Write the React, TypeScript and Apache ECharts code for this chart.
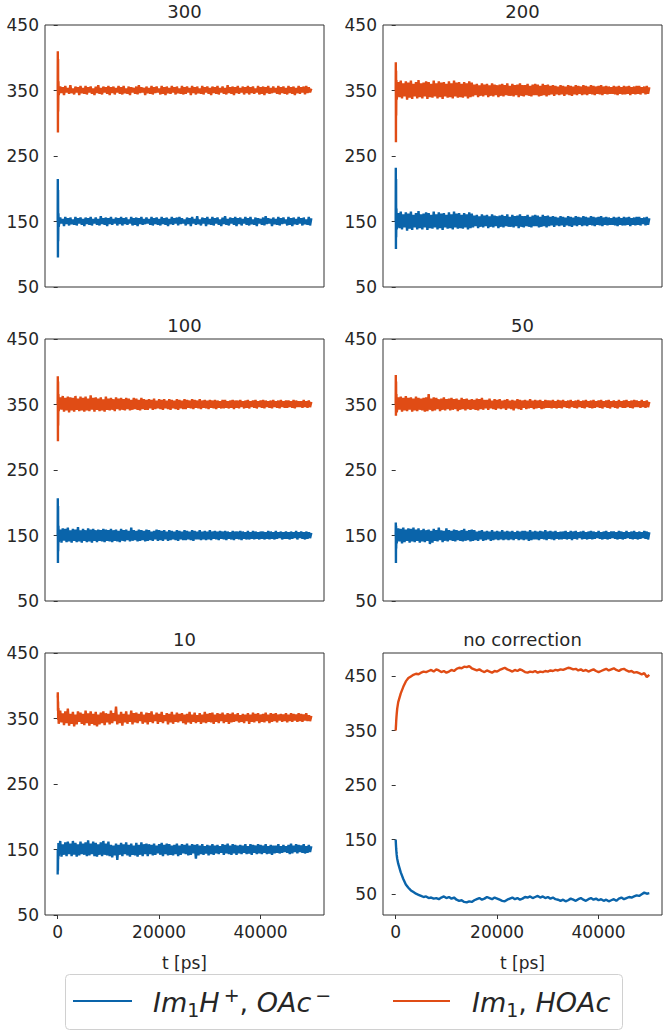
import React, { useEffect, useRef } from "react";
import * as echarts from "echarts";

// time stamps (ps) for the corrected runs
const TIMES = [
  0, 25, 50, 75, 100, 150, 200,
  250, 500, 750, 1000, 1250, 1500, 1750, 2000, 2250, 2500,
  2750, 3000, 3250, 3500, 3750, 4000, 4250, 4500, 4750, 5000,
  5250, 5500, 5750, 6000, 6250, 6500, 6750, 7000, 7250, 7500,
  7750, 8000, 8250, 8500, 8750, 9000, 9250, 9500, 9750, 10000,
  10250, 10500, 10750, 11000, 11250, 11500, 11750, 12000, 12250, 12500,
  12750, 13000, 13250, 13500, 13750, 14000, 14250, 14500, 14750, 15000,
  15250, 15500, 15750, 16000, 16250, 16500, 16750, 17000, 17250, 17500,
  17750, 18000, 18250, 18500, 18750, 19000, 19250, 19500, 19750, 20000,
  20250, 20500, 20750, 21000, 21250, 21500, 21750, 22000, 22250, 22500,
  22750, 23000, 23250, 23500, 23750, 24000, 24250, 24500, 24750, 25000,
  25250, 25500, 25750, 26000, 26250, 26500, 26750, 27000, 27250, 27500,
  27750, 28000, 28250, 28500, 28750, 29000, 29250, 29500, 29750, 30000,
  30250, 30500, 30750, 31000, 31250, 31500, 31750, 32000, 32250, 32500,
  32750, 33000, 33250, 33500, 33750, 34000, 34250, 34500, 34750, 35000,
  35250, 35500, 35750, 36000, 36250, 36500, 36750, 37000, 37250, 37500,
  37750, 38000, 38250, 38500, 38750, 39000, 39250, 39500, 39750, 40000,
  40250, 40500, 40750, 41000, 41250, 41500, 41750, 42000, 42250, 42500,
  42750, 43000, 43250, 43500, 43750, 44000, 44250, 44500, 44750, 45000,
  45250, 45500, 45750, 46000, 46250, 46500, 46750, 47000, 47250, 47500,
  47750, 48000, 48250, 48500, 48750, 49000, 49250, 49500, 49750, 50000,
];

// time stamps (ps) for the uncorrected run
const TIMES_NC = [
  0, 25, 50, 75, 100, 150, 200, 300,
  500, 1000, 1500, 2000, 2500, 3000, 3500, 4000, 4500, 5000,
  5500, 6000, 6500, 7000, 7500, 8000, 8500, 9000, 9500, 10000,
  10500, 11000, 11500, 12000, 12500, 13000, 13500, 14000, 14500, 15000,
  15500, 16000, 16500, 17000, 17500, 18000, 18500, 19000, 19500, 20000,
  20500, 21000, 21500, 22000, 22500, 23000, 23500, 24000, 24500, 25000,
  25500, 26000, 26500, 27000, 27500, 28000, 28500, 29000, 29500, 30000,
  30500, 31000, 31500, 32000, 32500, 33000, 33500, 34000, 34500, 35000,
  35500, 36000, 36500, 37000, 37500, 38000, 38500, 39000, 39500, 40000,
  40500, 41000, 41500, 42000, 42500, 43000, 43500, 44000, 44500, 45000,
  45500, 46000, 46500, 47000, 47500, 48000, 48500, 49000, 49500, 50000,
];

const ORANGE_300 = [
  350, 410, 286, 398, 318, 364, 343,
  344, 356, 346, 355, 343, 357, 347, 354, 345, 358,
  346, 353, 344, 356, 347, 355, 343, 357, 346, 354,
  345, 357, 344, 355, 347, 356, 345, 353, 343, 356,
  346, 358, 345, 354, 344, 356, 347, 355, 345, 357,
  343, 355, 346, 356, 344, 354, 347, 357, 345, 355,
  344, 357, 346, 353, 345, 356, 343, 355, 347, 354,
  345, 356, 344, 358, 346, 355, 347, 354, 343, 356,
  346, 354, 345, 357, 344, 355, 346, 356, 347, 353,
  344, 357, 345, 355, 343, 356, 346, 354, 345, 357,
  347, 355, 344, 356, 346, 353, 345, 357, 344, 355,
  345, 356, 347, 354, 343, 357, 346, 355, 344, 356,
  346, 353, 345, 357, 344, 355, 347, 356, 345, 354,
  343, 356, 346, 355, 345, 357, 344, 354, 347, 356,
  345, 354, 344, 358, 346, 355, 345, 356, 343, 355,
  346, 357, 345, 354, 347, 356, 344, 355, 346, 357,
  344, 355, 346, 356, 345, 353, 347, 357, 344, 355,
  345, 356, 343, 355, 346, 357, 345, 354, 346, 356,
  347, 354, 345, 357, 344, 355, 346, 356, 345, 354,
  344, 357, 346, 355, 345, 356, 343, 354, 346, 357,
  345, 355, 347, 356, 344, 357, 346, 355, 347, 353,
];
const BLUE_300 = [
  150, 215, 95, 198, 120, 162, 142,
  145, 156, 147, 154, 143, 157, 146, 155, 144, 156,
  146, 153, 145, 157, 144, 155, 147, 156, 145, 154,
  143, 156, 146, 155, 145, 157, 144, 154, 147, 156,
  145, 154, 144, 158, 146, 155, 145, 156, 143, 155,
  146, 157, 145, 154, 147, 156, 144, 155, 146, 157,
  144, 155, 146, 156, 145, 153, 147, 157, 144, 155,
  145, 156, 143, 155, 146, 157, 145, 154, 146, 156,
  147, 154, 145, 157, 144, 155, 146, 156, 145, 154,
  144, 157, 146, 155, 145, 156, 143, 154, 146, 157,
  145, 155, 147, 156, 144, 157, 146, 155, 147, 153,
  144, 156, 146, 155, 143, 157, 147, 154, 145, 158,
  146, 153, 144, 156, 147, 155, 143, 157, 146, 154,
  145, 157, 144, 155, 147, 156, 145, 153, 143, 156,
  146, 158, 145, 154, 144, 156, 147, 155, 145, 157,
  143, 155, 146, 156, 144, 154, 147, 157, 145, 155,
  144, 157, 146, 153, 145, 156, 143, 155, 147, 154,
  145, 156, 144, 158, 146, 155, 147, 154, 143, 156,
  146, 154, 145, 157, 144, 155, 146, 156, 147, 153,
  144, 157, 145, 155, 143, 156, 146, 154, 145, 157,
  147, 155, 144, 156, 146, 153, 145, 157, 144, 155,
];

const ORANGE_200 = [
  350, 393, 271, 380, 312, 366, 336,
  337, 363, 340, 365, 338, 361, 341, 364, 336, 362,
  339, 365, 337, 360, 341, 363, 338, 366, 340, 361,
  338, 362, 341, 364, 337, 363, 340, 360, 339, 365,
  341, 361, 338, 364, 340, 362, 337, 363, 341, 360,
  339, 364, 340, 361, 338, 365, 341, 362, 339, 363,
  340, 360, 339, 363, 341, 361, 338, 364, 340, 362,
  341, 359, 343, 360, 340, 358, 342, 361, 341, 359,
  343, 360, 340, 358, 342, 361, 341, 359, 343, 358,
  340, 359, 342, 360, 341, 358, 343, 361, 342, 357,
  342, 360, 341, 358, 343, 359, 340, 361, 342, 358,
  341, 358, 343, 360, 342, 357, 341, 359, 343, 360,
  343, 359, 341, 357, 342, 360, 343, 358, 341, 359,
  343, 357, 344, 358, 342, 357, 344, 356, 343, 358,
  344, 357, 342, 356, 344, 358, 343, 357, 342, 356,
  344, 358, 343, 357, 345, 356, 343, 358, 344, 357,
  343, 356, 345, 358, 344, 357, 343, 356, 345, 357,
  344, 358, 343, 356, 345, 357, 344, 356, 345, 355,
  345, 357, 344, 356, 343, 357, 345, 355, 344, 357,
  344, 356, 345, 357, 343, 355, 345, 356, 344, 357,
  345, 357, 344, 355, 346, 356, 344, 357, 345, 355,
];
const BLUE_200 = [
  150, 232, 108, 215, 126, 170, 138,
  137, 163, 140, 165, 138, 161, 141, 164, 136, 162,
  139, 165, 137, 160, 141, 163, 138, 166, 140, 161,
  138, 162, 141, 164, 137, 163, 140, 160, 139, 165,
  141, 161, 138, 164, 140, 162, 137, 163, 141, 160,
  139, 164, 140, 161, 138, 165, 141, 162, 139, 163,
  140, 160, 139, 163, 141, 161, 138, 164, 140, 162,
  141, 159, 143, 160, 140, 158, 142, 161, 141, 159,
  143, 160, 140, 158, 142, 161, 141, 159, 143, 158,
  140, 159, 142, 160, 141, 158, 143, 161, 142, 157,
  142, 160, 141, 158, 143, 159, 140, 161, 142, 158,
  141, 158, 143, 160, 142, 157, 141, 159, 143, 160,
  143, 159, 141, 157, 142, 160, 143, 158, 141, 159,
  143, 157, 144, 158, 142, 157, 144, 156, 143, 158,
  144, 157, 142, 156, 144, 158, 143, 157, 142, 156,
  144, 158, 143, 157, 145, 156, 143, 158, 144, 157,
  143, 156, 145, 158, 144, 157, 143, 156, 145, 157,
  144, 158, 143, 156, 145, 157, 144, 156, 145, 155,
  145, 157, 144, 156, 143, 157, 145, 155, 144, 157,
  144, 156, 145, 157, 143, 155, 145, 156, 144, 157,
  145, 157, 144, 155, 146, 156, 144, 157, 145, 155,
];

const ORANGE_100 = [
  350, 393, 294, 385, 318, 366, 340,
  340, 361, 342, 363, 339, 360, 341, 362, 338, 361,
  341, 360, 339, 363, 342, 359, 340, 362, 341, 360,
  339, 362, 341, 359, 340, 364, 342, 360, 339, 361,
  342, 359, 340, 361, 341, 358, 339, 362, 342, 359,
  341, 360, 342, 358, 340, 361, 343, 359, 341, 360,
  342, 358, 341, 360, 343, 359, 341, 357, 342, 360,
  343, 359, 342, 357, 341, 360, 343, 358, 342, 357,
  342, 358, 344, 357, 342, 359, 343, 356, 344, 358,
  343, 357, 342, 358, 344, 356, 343, 358, 342, 357,
  344, 356, 343, 358, 342, 357, 344, 356, 343, 358,
  343, 357, 345, 356, 344, 358, 343, 357, 345, 356,
  344, 358, 343, 356, 345, 357, 344, 356, 343, 357,
  345, 356, 344, 357, 343, 356, 345, 355, 344, 357,
  344, 357, 345, 355, 344, 356, 345, 357, 343, 356,
  345, 356, 344, 357, 346, 355, 344, 356, 345, 357,
  344, 355, 346, 356, 345, 357, 344, 355, 346, 356,
  345, 357, 344, 356, 346, 355, 345, 356, 344, 357,
  346, 355, 345, 356, 344, 357, 346, 355, 345, 356,
  345, 356, 346, 355, 345, 357, 344, 356, 346, 355,
  346, 355, 345, 357, 346, 355, 345, 356, 346, 354,
];
const BLUE_100 = [
  150, 207, 108, 195, 126, 165, 140,
  141, 159, 139, 161, 142, 160, 140, 162, 141, 158,
  139, 160, 142, 159, 140, 163, 141, 158, 139, 160,
  142, 158, 140, 161, 141, 159, 139, 160, 142, 158,
  140, 159, 142, 158, 141, 160, 140, 159, 142, 158,
  141, 160, 140, 158, 142, 159, 141, 157, 140, 160,
  142, 158, 141, 159, 143, 157, 141, 162, 142, 158,
  143, 157, 141, 159, 142, 158, 143, 157, 141, 159,
  142, 158, 143, 156, 142, 157, 144, 159, 142, 158,
  143, 157, 142, 158, 144, 156, 142, 158, 143, 157,
  144, 156, 143, 158, 142, 157, 144, 156, 143, 158,
  143, 157, 144, 156, 143, 158, 142, 157, 144, 156,
  144, 158, 143, 156, 144, 157, 143, 156, 144, 158,
  143, 156, 145, 157, 144, 156, 143, 157, 145, 156,
  144, 157, 143, 156, 145, 155, 144, 157, 143, 156,
  145, 156, 144, 157, 143, 156, 145, 155, 144, 157,
  144, 155, 145, 157, 144, 156, 145, 155, 144, 156,
  145, 156, 144, 155, 145, 157, 144, 156, 145, 155,
  144, 157, 145, 155, 146, 156, 144, 155, 145, 156,
  145, 155, 144, 156, 145, 155, 146, 157, 144, 155,
  146, 156, 145, 155, 144, 156, 145, 155, 146, 154,
];

const ORANGE_50 = [
  350, 395, 333, 385, 340, 366, 338,
  340, 361, 342, 362, 339, 360, 341, 363, 340, 360,
  342, 361, 339, 359, 341, 362, 340, 360, 342, 359,
  341, 360, 339, 361, 340, 366, 342, 359, 340, 361,
  341, 360, 343, 358, 340, 359, 342, 361, 341, 358,
  343, 359, 341, 360, 342, 358, 343, 359, 340, 357,
  342, 360, 343, 358, 341, 359, 343, 357, 342, 358,
  343, 357, 342, 359, 341, 358, 343, 360, 342, 357,
  344, 357, 342, 359, 344, 356, 343, 358, 342, 357,
  344, 358, 343, 356, 344, 357, 342, 358, 344, 356,
  343, 357, 341, 356, 344, 358, 343, 357, 342, 356,
  345, 357, 343, 356, 344, 358, 345, 356, 343, 357,
  344, 356, 345, 357, 343, 355, 344, 357, 345, 356,
  345, 356, 344, 357, 345, 355, 344, 357, 345, 356,
  344, 357, 346, 355, 345, 356, 344, 357, 346, 355,
  345, 356, 344, 357, 346, 355, 345, 356, 344, 357,
  346, 355, 345, 356, 344, 357, 345, 355, 346, 356,
  345, 357, 344, 355, 346, 356, 345, 357, 344, 355,
  346, 356, 345, 355, 344, 357, 346, 355, 345, 356,
  345, 357, 346, 355, 345, 356, 344, 357, 346, 356,
  346, 355, 345, 357, 346, 355, 345, 356, 346, 354,
];
const BLUE_50 = [
  150, 170, 108, 165, 130, 160, 138,
  139, 161, 141, 160, 138, 162, 140, 159, 142, 161,
  139, 160, 141, 162, 140, 159, 142, 161, 139, 158,
  141, 160, 140, 158, 142, 159, 137, 157, 139, 160,
  142, 158, 141, 162, 143, 158, 140, 157, 142, 161,
  141, 158, 143, 157, 142, 159, 141, 158, 143, 157,
  142, 158, 141, 160, 142, 157, 143, 158, 141, 159,
  142, 158, 143, 156, 142, 157, 144, 158, 142, 156,
  143, 157, 144, 156, 142, 158, 143, 156, 144, 157,
  143, 156, 144, 158, 143, 156, 144, 157, 143, 156,
  144, 157, 143, 155, 145, 157, 143, 156, 144, 157,
  143, 157, 144, 156, 142, 158, 143, 156, 144, 157,
  144, 156, 143, 157, 145, 156, 144, 158, 143, 156,
  145, 157, 144, 156, 143, 157, 145, 155, 144, 156,
  144, 156, 145, 157, 144, 155, 145, 157, 143, 156,
  145, 157, 144, 155, 146, 156, 144, 157, 145, 155,
  144, 156, 145, 157, 144, 156, 145, 155, 146, 157,
  145, 155, 144, 156, 145, 157, 144, 155, 145, 156,
  146, 156, 145, 155, 144, 157, 145, 156, 144, 155,
  145, 157, 146, 155, 145, 156, 144, 157, 145, 155,
  144, 156, 145, 155, 146, 157, 145, 156, 144, 155,
];

const ORANGE_10 = [
  382, 390, 362, 376, 348, 366, 342,
  341, 362, 344, 358, 340, 361, 343, 365, 339, 357,
  342, 360, 338, 356, 341, 361, 345, 359, 342, 357,
  340, 362, 343, 358, 339, 361, 342, 357, 340, 360,
  338, 356, 341, 359, 343, 361, 340, 358, 344, 357,
  341, 362, 343, 358, 346, 368, 341, 356, 343, 360,
  339, 357, 344, 361, 342, 356, 345, 362, 341, 358,
  344, 359, 343, 357, 346, 360, 342, 356, 344, 359,
  341, 358, 345, 361, 343, 356, 346, 359, 342, 357,
  345, 360, 343, 355, 346, 358, 341, 357, 344, 360,
  342, 356, 345, 359, 344, 357, 346, 358, 343, 356,
  341, 357, 344, 360, 342, 356, 345, 359, 343, 355,
  345, 358, 342, 356, 344, 360, 343, 357, 345, 358,
  344, 359, 342, 356, 345, 358, 343, 357, 346, 359,
  343, 356, 345, 358, 342, 357, 344, 359, 345, 356,
  346, 358, 344, 355, 345, 357, 343, 356, 346, 358,
  342, 356, 345, 359, 344, 357, 346, 358, 343, 356,
  345, 357, 344, 359, 346, 356, 343, 358, 345, 357,
  346, 358, 344, 356, 347, 357, 345, 356, 346, 358,
  344, 356, 346, 358, 345, 357, 347, 356, 345, 358,
  346, 357, 345, 356, 347, 358, 346, 355, 346, 354,
];
const BLUE_10 = [
  112, 150, 118, 146, 135, 160, 140,
  141, 163, 139, 158, 142, 161, 140, 162, 143, 159,
  140, 163, 142, 160, 139, 158, 141, 162, 143, 159,
  142, 161, 140, 164, 141, 159, 143, 162, 140, 160,
  139, 158, 142, 161, 140, 163, 142, 159, 141, 162,
  140, 157, 138, 156, 141, 159, 134, 157, 142, 160,
  140, 158, 143, 161, 141, 157, 139, 159, 142, 156,
  141, 160, 139, 157, 142, 161, 140, 158, 143, 159,
  140, 158, 143, 157, 141, 159, 142, 156, 144, 158,
  142, 160, 140, 157, 143, 159, 141, 158, 142, 156,
  141, 157, 143, 159, 140, 156, 142, 158, 144, 157,
  143, 159, 141, 156, 142, 158, 144, 157, 136, 158,
  141, 156, 143, 158, 142, 155, 144, 157, 141, 156,
  143, 158, 142, 156, 144, 157, 143, 155, 145, 158,
  142, 157, 144, 159, 143, 156, 142, 158, 144, 157,
  142, 156, 144, 157, 143, 156, 145, 158, 143, 155,
  144, 158, 142, 157, 145, 156, 143, 158, 144, 157,
  143, 156, 145, 158, 143, 155, 144, 157, 142, 156,
  144, 156, 145, 158, 144, 155, 145, 157, 146, 155,
  145, 157, 143, 159, 144, 156, 146, 158, 144, 157,
  146, 156, 145, 158, 144, 155, 145, 157, 146, 155,
];

const ORANGE_NC = [
  350, 354, 358, 362, 367, 374, 380, 390,
  402, 418, 430, 440, 446, 449, 452, 454, 453, 456,
  458, 457, 459, 461, 458, 462, 460, 457, 459, 456,
  458, 461, 459, 463, 465, 464, 467, 466, 468, 464,
  462, 460, 462, 459, 457, 460, 458, 456, 459, 458,
  461, 463, 465, 462, 460, 458, 461, 459, 462, 460,
  457, 456, 458, 457, 459, 456, 458, 457, 459, 458,
  460, 459, 461, 460, 462, 461, 463, 465, 464, 462,
  463, 460, 462, 459, 461, 458, 460, 462, 459, 457,
  459, 461, 463, 460, 462, 464, 461, 459, 462, 463,
  460, 458, 459, 456, 457, 455, 453, 455, 448, 452,
];
const BLUE_NC = [
  150, 146, 141, 137, 133, 127, 122, 115,
  106, 90, 78, 68, 62, 57, 54, 51, 49, 47,
  45, 46, 43, 44, 42, 43, 41, 44, 46, 43,
  45, 42, 44, 40, 38, 39, 36, 35, 37, 36,
  39, 41, 43, 40, 42, 45, 43, 41, 44, 42,
  40, 38, 37, 40, 42, 44, 41, 43, 40, 42,
  45, 44, 46, 43, 45, 47, 44, 46, 43, 45,
  42, 44, 41, 40, 38, 40, 37, 39, 42, 40,
  38, 41, 43, 40, 38, 41, 43, 40, 42, 39,
  41, 38, 40, 37, 39, 41, 38, 42, 44, 41,
  43, 45, 44, 46, 48, 47, 50, 53, 51, 52,
];

const TITLES = ["300", "200", "100", "50", "10", "no correction"];
const BLUE_SERIES = [BLUE_300, BLUE_200, BLUE_100, BLUE_50, BLUE_10, BLUE_NC];
const ORANGE_SERIES = [ORANGE_300, ORANGE_200, ORANGE_100, ORANGE_50, ORANGE_10, ORANGE_NC];
const Y_TICKS = [50, 150, 250, 350, 450];
const X_TICKS = [0, 20000, 40000];
const LEGEND_NAMES = ["Im1H+, OAc-", "Im1, HOAc"];

const BLUE = "#0a64aa";
const ORANGE = "#e04c15";
const FONT = "DejaVu Sans";
const TEXT = "#262626";

const LEFTS = [45, 383];
const TOPS = [25, 339, 653];
const GW = 279;
const GH = 262;

export default function App() {
  const ref = useRef<HTMLDivElement>(null);
  useEffect(() => {
    document.body.style.margin = "0";
    const chart = echarts.init(ref.current!, null, { renderer: "svg" });
    const grids: any[] = [];
    const xAxes: any[] = [];
    const yAxes: any[] = [];
    const series: any[] = [];
    const graphics: any[] = [];
    TITLES.forEach((title, i) => {
      const col = i % 2;
      const row = Math.floor(i / 2);
      const left = LEFTS[col];
      const top = TOPS[row];
      const bottomRow = row === 2;
      const noCorr = i === 5;
      const times = noCorr ? TIMES_NC : TIMES;
      grids.push({
        left,
        top,
        width: GW,
        height: GH,
        show: true,
        borderColor: "#333",
        borderWidth: 1,
        backgroundColor: "transparent",
      });
      xAxes.push({
        type: "value",
        gridIndex: i,
        min: -2500,
        max: 52500,
        axisLine: { show: false },
        splitLine: { show: false },
        axisTick: {
          show: bottomRow,
          length: 4,
          lineStyle: { color: "#333" },
          customValues: X_TICKS,
        },
        axisLabel: {
          show: bottomRow,
          customValues: X_TICKS,
          formatter: (v: number) => String(v),
          margin: 8,
          color: TEXT,
          fontFamily: FONT,
          fontSize: 17,
        },
        name: bottomRow ? "t [ps]" : "",
        nameLocation: "middle",
        nameGap: 39,
        nameTextStyle: { color: TEXT, fontFamily: FONT, fontSize: 17 },
      });
      yAxes.push({
        type: "value",
        gridIndex: i,
        min: noCorr ? 12 : 50,
        max: noCorr ? 492 : 450,
        axisLine: { show: false },
        splitLine: { show: false },
        axisTick: {
          show: true,
          length: 4,
          lineStyle: { color: "#333" },
          customValues: Y_TICKS,
        },
        axisLabel: {
          customValues: Y_TICKS,
          margin: 6,
          color: TEXT,
          fontFamily: FONT,
          fontSize: 17,
        },
      });
      series.push({
        type: "line",
        name: LEGEND_NAMES[0],
        xAxisIndex: i,
        yAxisIndex: i,
        showSymbol: false,
        symbol: "none",
        lineStyle: { color: BLUE, width: noCorr ? 2.4 : 2.4 },
        itemStyle: { color: BLUE },
        data: times.map((t, k) => [t, BLUE_SERIES[i][k]]),
      });
      series.push({
        type: "line",
        name: LEGEND_NAMES[1],
        xAxisIndex: i,
        yAxisIndex: i,
        showSymbol: false,
        symbol: "none",
        lineStyle: { color: ORANGE, width: noCorr ? 2.4 : 2.4 },
        itemStyle: { color: ORANGE },
        data: times.map((t, k) => [t, ORANGE_SERIES[i][k]]),
      });
      graphics.push({
        type: "text",
        x: left + GW / 2,
        y: top - 14,
        style: {
          text: title,
          align: "center",
          verticalAlign: "middle",
          fontFamily: FONT,
          fontSize: 18,
          fill: TEXT,
        },
      });
    });

    const rich = {
      i: { fontFamily: FONT, fontStyle: "italic", fontSize: 27, lineHeight: 34, fill: TEXT },
      r: { fontFamily: FONT, fontSize: 27, lineHeight: 34, fill: TEXT },
      s: { fontFamily: FONT, fontSize: 19, lineHeight: 18, verticalAlign: "bottom", fill: TEXT },
      p: { fontFamily: FONT, fontSize: 19, lineHeight: 10, verticalAlign: "top", fill: TEXT, padding: [0, 0, 0, 4] },
    };
    graphics.push(
      {
        type: "rect",
        shape: { x: 65.5, y: 974.5, width: 557, height: 55, r: 4 },
        style: { fill: "#fff", stroke: "#d0d0d0", lineWidth: 1 },
      },
      {
        type: "line",
        shape: { x1: 73, y1: 1001, x2: 132, y2: 1001 },
        style: { stroke: BLUE, lineWidth: 2 },
      },
      {
        type: "line",
        shape: { x1: 393, y1: 1001, x2: 450, y2: 1001 },
        style: { stroke: ORANGE, lineWidth: 2 },
      },
      {
        type: "text",
        x: 153,
        y: 1002,
        style: {
          text: "{i|Im}{s|1}{i|H}{p|+}{r|, }{i|OAc}{p|\u2212}",
          rich,
          align: "left",
          verticalAlign: "middle",
        },
      },
      {
        type: "text",
        x: 472,
        y: 1002,
        style: {
          text: "{i|Im}{s|1}{r|, }{i|HOAc}",
          rich,
          align: "left",
          verticalAlign: "middle",
        },
      }
    );

    chart.setOption({
      animation: false,
      backgroundColor: "#fff",
      grid: grids,
      xAxis: xAxes,
      yAxis: yAxes,
      series,
      graphic: graphics,
    });
    return () => chart.dispose();
  }, []);
  return (
    <div
      ref={ref}
      style={{ position: "absolute", left: 0, top: 0, width: 664, height: 1033 }}
    />
  );
}
